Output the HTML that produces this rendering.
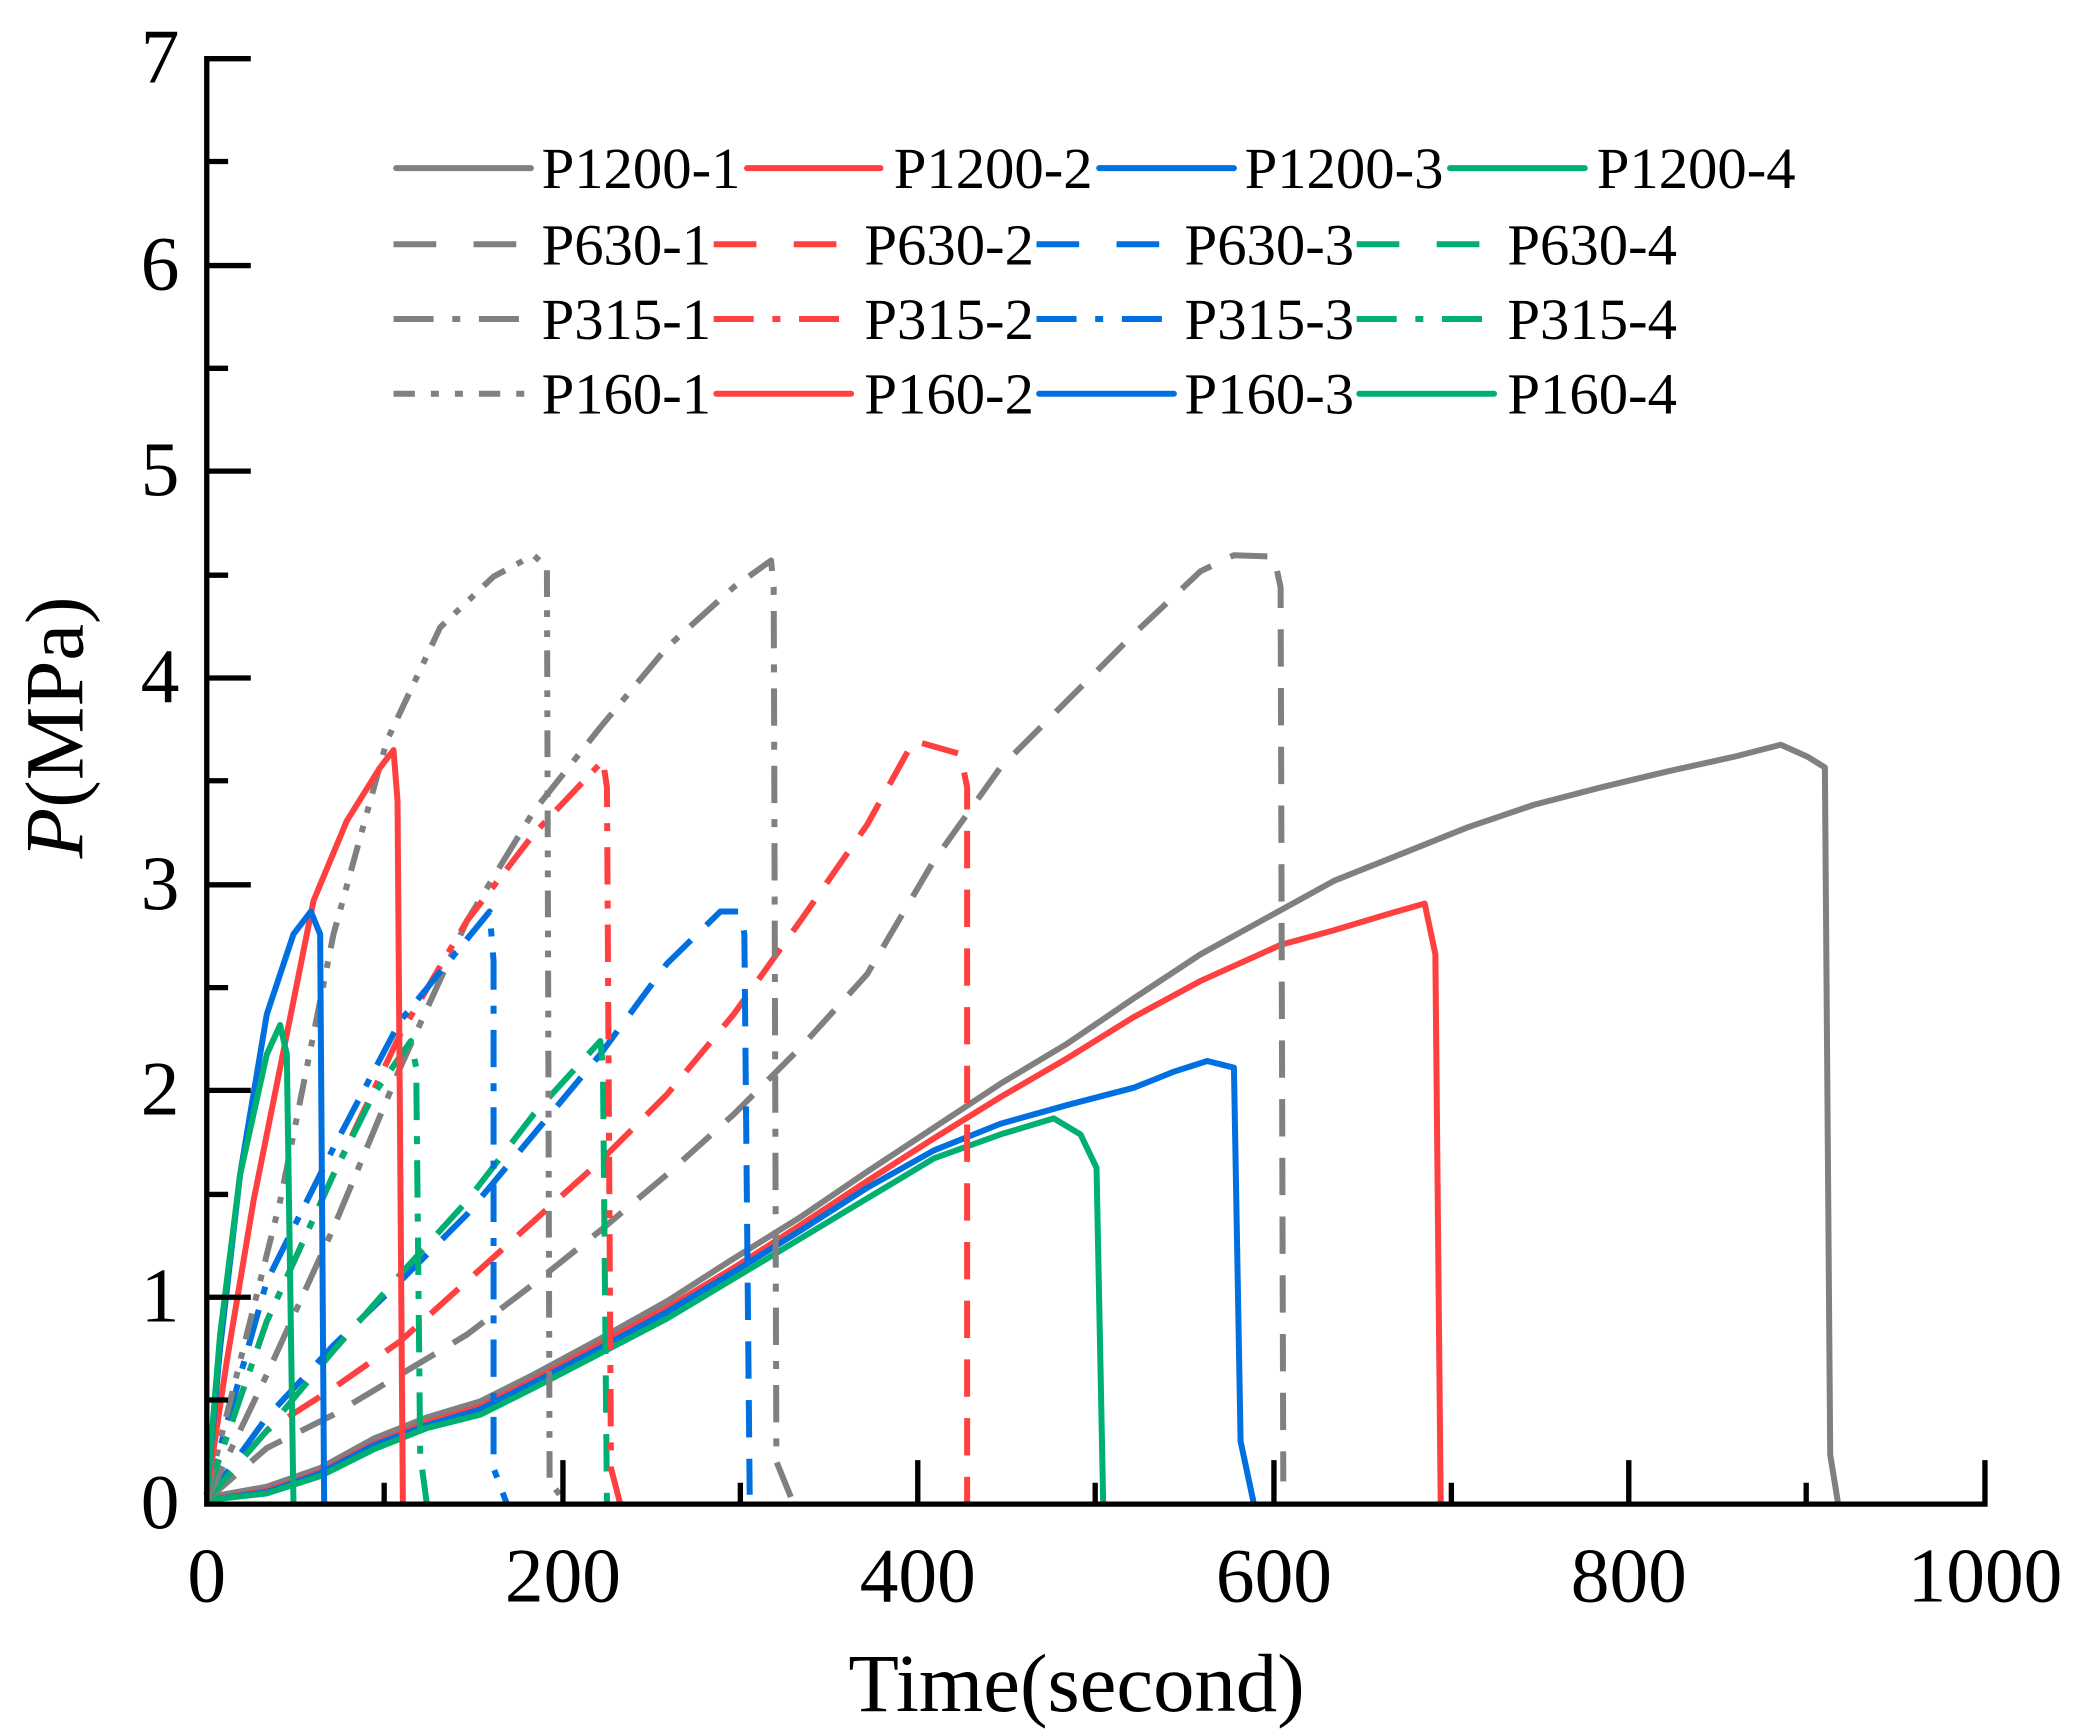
<!DOCTYPE html>
<html><head><meta charset="utf-8"><style>html,body{margin:0;padding:0;background:#fff}svg{display:block}</style></head><body>
<svg width="2081" height="1735" viewBox="0 0 1560 1300" preserveAspectRatio="none" xmlns="http://www.w3.org/2000/svg" font-family="Liberation Serif, serif">
<g fill="none" stroke-width="4.5" stroke-linejoin="round" stroke-linecap="butt">
<!-- P1200 -->
<polyline stroke="#808080" points="155,1122 200,1114 240,1100 280,1078 320,1062 360,1050 400,1030 450,1003 500,975 550,943 600,912 650,878 700,845 750,812 800,782 850,748 900,715 960,682 1000,660 1050,640 1100,620 1150,603 1200,590 1250,578 1300,567 1335,558 1355,567 1368,575 1372,1090 1378,1127"/>
<polyline stroke="#ff4040" points="155,1124 200,1117 240,1103 280,1082 320,1066 360,1054 400,1034 450,1007 500,980 550,950 600,918 650,885 700,853 750,822 800,793 850,762 900,735 960,708 1000,697 1040,685 1068,677 1076,715 1080,1127"/>
<polyline stroke="#0070e0" points="155,1124 200,1118 240,1104 280,1083 320,1068 360,1056 400,1036 450,1010 500,983 550,953 600,922 650,890 700,862 750,842 800,828 850,815 880,803 905,795 925,800 930,1080 940,1127"/>
<polyline stroke="#00b070" points="155,1124 200,1119 240,1106 280,1086 320,1070 360,1060 400,1040 450,1014 500,988 550,958 600,928 650,898 700,868 750,850 790,838 810,850 822,875 827,1127"/>
<!-- P630 -->
<g stroke-dasharray="28,16">
<polyline stroke="#808080" points="155,1124 200,1085 250,1060 300,1030 350,1000 400,962 450,922 500,880 550,835 600,785 650,730 700,645 750,575 800,525 850,475 900,428 925,416 955,417 960,440 962,1110"/>
<polyline stroke="#ff4040" points="155,1124 200,1072 250,1040 300,1005 350,960 400,915 450,870 500,820 550,760 600,690 650,618 685,555 720,565 725,590 725,1127"/>
<polyline stroke="#0070e0" points="155,1124 200,1062 250,1008 300,960 350,910 400,850 450,790 500,722 540,683 555,683 558,700 562,1120"/>
<polyline stroke="#00b070" points="155,1124 200,1072 250,1012 300,955 350,900 400,835 450,780 452,800 455,1127"/>
</g>
<!-- P315 -->
<g stroke-dasharray="28,12,6,12">
<polyline stroke="#808080" points="155,1124 200,1030 250,920 300,800 350,690 400,608 450,545 500,485 550,440 578,420 580,440 582,1095 595,1127"/>
<polyline stroke="#ff4040" points="155,1120 200,990 250,880 300,775 350,690 400,625 452,570 455,590 458,1100 465,1127"/>
<polyline stroke="#0070e0" points="155,1120 200,960 250,860 300,765 367,683 370,720 370,1100 380,1127"/>
<polyline stroke="#00b070" points="155,1120 200,990 250,880 280,820 308,780 312,800 315,1090 320,1127"/>
</g>
<!-- P160 -->
<polyline stroke="#808080" stroke-dasharray="20,10,5,10,5,10" points="155,1120 180,1020 210,900 250,700 290,555 330,470 370,432 400,416 410,425 412,1110 425,1127"/>
<polyline stroke="#ff4040" points="155,1120 170,1020 190,900 210,800 235,675 260,615 285,575 295,562 298,600 302,1127"/>
<polyline stroke="#0070e0" points="155,1120 165,1010 180,880 200,760 220,700 233,683 240,700 243,1127"/>
<polyline stroke="#00b070" points="155,1120 165,1000 180,880 200,790 210,768 215,790 220,1127"/>
</g>
<!-- axes -->
<g stroke="#000" stroke-width="4" fill="none">
<polyline points="188,44 155,44 155,1127 1488,1127 1488,1094"/>
<path d="M155,199H188M155,353H188M155,508H188M155,663H188M155,817H188M155,972H188M155,121H171M155,276H171M155,431H171M155,585H171M155,740H171M155,895H171M155,1049H171"/>
<path d="M422,1127V1094M688,1127V1094M955,1127V1094M1221,1127V1094M288,1127V1111M555,1127V1111M821,1127V1111M1088,1127V1111M1354,1127V1111"/>
</g>
<g font-size="58" fill="#000" text-anchor="middle">
<text x="120" y="62">7</text><text x="120" y="217">6</text><text x="120" y="371">5</text><text x="120" y="526">4</text><text x="120" y="681">3</text><text x="120" y="835">2</text><text x="120" y="990">1</text><text x="120" y="1145">0</text>
<text x="155" y="1200">0</text><text x="422" y="1200">200</text><text x="688" y="1200">400</text><text x="955" y="1200">600</text><text x="1221" y="1200">800</text><text x="1488" y="1200">1000</text>
<text x="807" y="1282" font-size="62">Time(second)</text>
<text transform="translate(62,545) rotate(-90)" font-size="62"><tspan font-style="italic">P</tspan>(MPa)</text>
</g>
<!-- legend -->
<g stroke-width="4.5" stroke-linecap="round">
<line x1="297" y1="126" x2="398" y2="126" stroke="#808080"/>
<line x1="560" y1="126" x2="660" y2="126" stroke="#ff4040"/>
<line x1="824" y1="126" x2="925" y2="126" stroke="#0070e0"/>
<line x1="1087" y1="126" x2="1188" y2="126" stroke="#00b070"/>
<g stroke-dasharray="32,28" stroke-linecap="butt">
<line x1="295" y1="183" x2="400" y2="183" stroke="#808080"/>
<line x1="535" y1="183" x2="640" y2="183" stroke="#ff4040"/>
<line x1="777" y1="183" x2="882" y2="183" stroke="#0070e0"/>
<line x1="1017" y1="183" x2="1122" y2="183" stroke="#00b070"/>
</g>
<g stroke-dasharray="30,14,6,14" stroke-linecap="butt">
<line x1="295" y1="239" x2="400" y2="239" stroke="#808080"/>
<line x1="535" y1="239" x2="640" y2="239" stroke="#ff4040"/>
<line x1="777" y1="239" x2="882" y2="239" stroke="#0070e0"/>
<line x1="1017" y1="239" x2="1122" y2="239" stroke="#00b070"/>
</g>
<line x1="295" y1="295" x2="400" y2="295" stroke="#808080" stroke-dasharray="16,12,6,12,6,12" stroke-linecap="butt"/>
<line x1="537" y1="295" x2="638" y2="295" stroke="#ff4040"/>
<line x1="779" y1="295" x2="880" y2="295" stroke="#0070e0"/>
<line x1="1019" y1="295" x2="1120" y2="295" stroke="#00b070"/>
</g>
<g font-size="44" fill="#000">
<text x="406" y="141">P1200-1</text><text x="670" y="141">P1200-2</text><text x="933" y="141">P1200-3</text><text x="1197" y="141">P1200-4</text>
<text x="406" y="198">P630-1</text><text x="648" y="198">P630-2</text><text x="888" y="198">P630-3</text><text x="1130" y="198">P630-4</text>
<text x="406" y="254">P315-1</text><text x="648" y="254">P315-2</text><text x="888" y="254">P315-3</text><text x="1130" y="254">P315-4</text>
<text x="406" y="310">P160-1</text><text x="648" y="310">P160-2</text><text x="888" y="310">P160-3</text><text x="1130" y="310">P160-4</text>
</g>
</svg>
</body></html>
